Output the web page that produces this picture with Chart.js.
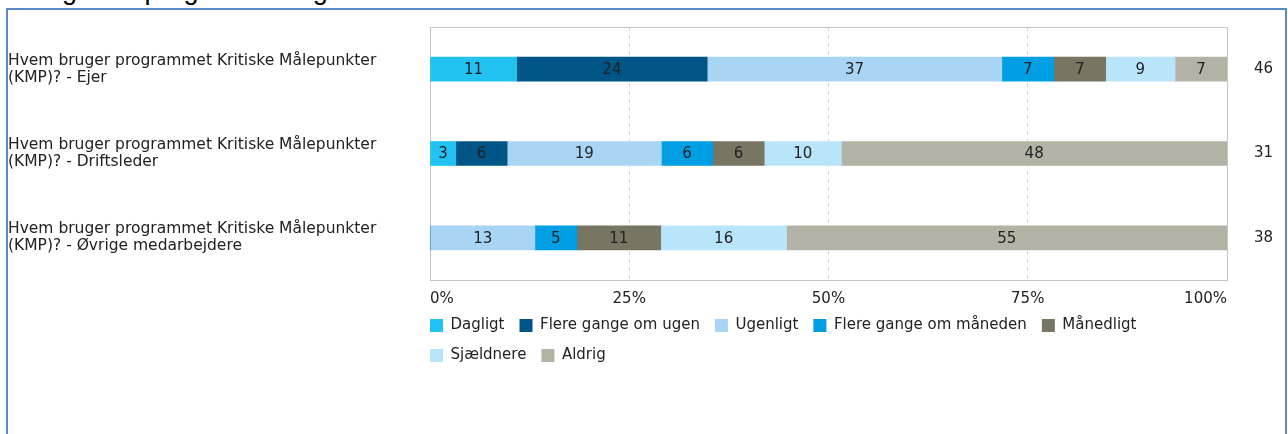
<!DOCTYPE html>
<html>
<head>
<meta charset="utf-8">
<script src="https://cdn.jsdelivr.net/npm/chart.js@4.4.0/dist/chart.umd.min.js"></script>
<style>
  html, body { margin: 0; padding: 0; background: #fff; }
  body { width: 1288px; height: 434px; position: relative; overflow: hidden; }
  #title { position: absolute; left: 20px; top: -23px; font: 27px "Liberation Sans", Arial, sans-serif; line-height: 27px; color: #000; white-space: nowrap; }
  #frame { position: absolute; left: 6px; top: 8px; width: 1281px; height: 460px; box-sizing: border-box; border: 2px solid #5a89c6; border-bottom: none; }
  #chart { position: absolute; left: 0; top: 0; }
</style>
</head>
<body>
<div id="title">Brugen af programmet og</div>
<div id="frame"></div>
<canvas id="chart" width="1288" height="434"></canvas>
<script>
const categories = [
  ["Hvem bruger programmet Kritiske Målepunkter", "(KMP)? - Ejer"],
  ["Hvem bruger programmet Kritiske Målepunkter", "(KMP)? - Driftsleder"],
  ["Hvem bruger programmet Kritiske Målepunkter", "(KMP)? - Øvrige medarbejdere"]
];
const respondents = [46, 31, 38];
const xTicks = [0, 25, 50, 75, 100];

// share of answers in % (rows: Ejer, Driftsleder, Øvrige medarbejdere)
const dagligt = [10.87, 3.23, 0];
const flereUgen = [23.91, 6.45, 0];
const ugenligt = [36.96, 19.35, 13.16];
const flereMaaned = [6.52, 6.45, 5.26];
const maanedligt = [6.52, 6.45, 10.53];
const sjaeldnere = [8.70, 9.68, 15.79];
const aldrig = [6.52, 48.39, 55.26];

const seriesNames = ["Dagligt", "Flere gange om ugen", "Ugenligt", "Flere gange om måneden", "Månedligt", "Sjældnere", "Aldrig"];
const seriesData = [dagligt, flereUgen, ugenligt, flereMaaned, maanedligt, sjaeldnere, aldrig];
const seriesColors = ["#22c3f3", "#005587", "#a9d5f5", "#009fe3", "#787662", "#b9e5fb", "#b3b3a5"];

const FONT = '"DejaVu Sans", Verdana, sans-serif';
Chart.defaults.font.family = FONT;
Chart.defaults.font.size = 15;
Chart.defaults.color = "#222";

// numbers inside each bar segment
const segmentLabels = {
  id: "segmentLabels",
  afterDatasetsDraw(chart) {
    const ctx = chart.ctx;
    ctx.save();
    ctx.font = "15px " + FONT;
    ctx.fillStyle = "#222";
    ctx.textAlign = "center";
    ctx.textBaseline = "middle";
    chart.data.datasets.forEach((ds, i) => {
      chart.getDatasetMeta(i).data.forEach((bar, j) => {
        const v = ds.data[j];
        if (!v) return;
        const p = bar.getCenterPoint();
        ctx.fillText(Math.round(v), p.x, p.y + 1);
      });
    });
    ctx.restore();
  }
};

// grey box round the plot area
const plotFrame = {
  id: "plotFrame",
  beforeDatasetsDraw(chart) {
    const { ctx, chartArea: a } = chart;
    ctx.save();
    ctx.strokeStyle = "#c4c4c4";
    ctx.lineWidth = 1;
    ctx.strokeRect(Math.round(a.left) + 0.5, Math.round(a.top) + 0.5, Math.round(a.right - a.left), Math.round(a.bottom - a.top));
    ctx.restore();
  }
};

// keep the legend under the plot area, wrapping at its right edge
const legendUnderPlot = {
  id: "legendUnderPlot",
  afterLayout(chart) {
    const lg = chart.legend;
    const pad = lg.options.labels.padding;
    lg.left = chart.chartArea.left - pad;
    lg.right = chart.chartArea.right;
    lg.bottom = chart.height;
  }
};

new Chart(document.getElementById("chart"), {
  type: "bar",
  data: {
    labels: categories,
    datasets: seriesNames.map((name, i) => ({
      label: name,
      data: seriesData[i],
      backgroundColor: seriesColors[i],
      borderWidth: 0,
      barThickness: 24
    }))
  },
  options: {
    indexAxis: "y",
    responsive: false,
    animation: false,
    layout: { padding: { left: 8, top: 27, right: 15, bottom: 91 } },
    scales: {
      x: {
        stacked: true,
        min: 0,
        max: 100,
        afterBuildTicks: s => { s.ticks = xTicks.map(v => ({ value: v })); },
        afterFit: s => { s.height = 23; },
        grid: {
          color: c => (c.tick && (c.tick.value === 0 || c.tick.value === 100)) ? "rgba(0,0,0,0)" : "#d4d4d4",
          drawTicks: false
        },
        border: { display: false, dash: [4, 4] },
        ticks: { align: "inner", padding: 10, maxRotation: 0, callback: v => v + "%" }
      },
      y: {
        stacked: true,
        grid: { display: false, drawTicks: false },
        border: { display: false },
        afterFit: s => { s.width = 422; },
        ticks: { crossAlign: "far", autoSkip: false, font: { size: 15.5, lineHeight: 1.1 } }
      },
      y2: {
        type: "category",
        labels: respondents.map(String),
        position: "right",
        offset: true,
        grid: { display: false, drawTicks: false },
        border: { display: false },
        afterFit: s => { s.width = 46; },
        ticks: { crossAlign: "far", font: { size: 15 } }
      }
    },
    plugins: {
      legend: {
        position: "bottom",
        align: "start",
        labels: { boxWidth: 13, boxHeight: 13, padding: 15, font: { size: 15 }, color: "#222" }
      },
      tooltip: { enabled: false }
    }
  },
  plugins: [segmentLabels, plotFrame, legendUnderPlot]
});
</script>
</body>
</html>
